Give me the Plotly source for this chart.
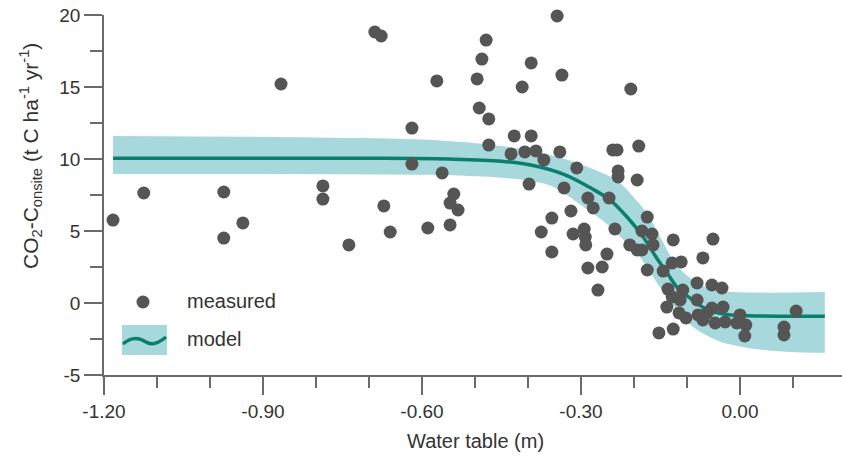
import plotly.graph_objects as go

# ---------------- data ----------------
water_table = [
    -1.183, -1.125, -0.974, -0.974, -0.938, -0.866, -0.787, -0.787, -0.738, -0.689,
    -0.677, -0.672, -0.660, -0.619, -0.619, -0.589, -0.572, -0.562, -0.547, -0.547,
    -0.540, -0.532, -0.496, -0.492, -0.487, -0.479, -0.474, -0.474, -0.432, -0.426,
    -0.411, -0.406, -0.398, -0.394, -0.394, -0.385, -0.375, -0.370, -0.355, -0.355,
    -0.345, -0.340, -0.336, -0.332, -0.319, -0.315, -0.308, -0.294, -0.292, -0.291,
    -0.287, -0.287, -0.277, -0.268, -0.260, -0.251, -0.247, -0.240, -0.232, -0.236,
    -0.230, -0.230, -0.206, -0.208, -0.194, -0.194, -0.191, -0.185, -0.175, -0.175,
    -0.166, -0.164, -0.185, -0.153, -0.126, -0.126, -0.051, -0.128, -0.111, -0.070,
    -0.145, -0.081, -0.053, -0.034, -0.136, -0.108, -0.128, -0.113, -0.081, -0.138,
    -0.115, -0.102, -0.079, -0.062, -0.053, -0.032, -0.070, -0.047, -0.028, 0.000,
    -0.006, 0.011, 0.009, 0.083, 0.083, 0.106,
]
co2_measured = [
    5.76, 7.64, 7.71, 4.51, 5.56, 15.21, 8.13, 7.22, 4.03, 18.82,
    18.54, 6.74, 4.93, 12.15, 9.65, 5.21, 15.42, 9.03, 6.94, 5.42,
    7.57, 6.46, 15.56, 13.54, 16.94, 18.26, 12.78, 10.97, 10.35, 11.60,
    15.00, 10.49, 8.26, 16.67, 11.60, 10.56, 4.93, 9.93, 5.90, 3.54,
    19.93, 10.49, 15.83, 7.99, 6.39, 4.79, 9.38, 5.14, 4.58, 4.03,
    7.29, 2.43, 6.60, 0.90, 2.50, 3.40, 7.29, 10.63, 10.63, 5.14,
    9.17, 8.75, 14.86, 4.03, 8.54, 3.68, 10.90, 5.00, 5.97, 2.29,
    4.79, 4.03, 3.68, -2.08, -1.81, 4.38, 4.44, 2.78, 2.85, 3.13,
    2.22, 1.39, 1.25, 1.04, 0.97, 0.90, 0.42, 0.21, 0.21, -0.28,
    -0.69, -1.04, -0.83, -0.69, -0.35, -0.28, -1.18, -1.39, -1.32, -0.83,
    -1.39, -1.53, -2.29, -1.67, -2.22, -0.56,
]

model_x = [-1.183, -0.9, -0.7, -0.55, -0.45, -0.39, -0.33, -0.28, -0.245, -0.213,
           -0.183, -0.155, -0.135, -0.119, -0.089, -0.062, -0.025, 0.03, 0.16]
model_y = [10.05, 10.05, 10.05, 10.0, 9.85, 9.55, 8.9, 7.95, 7.15, 5.97,
           4.6, 3.0, 1.95, 1.1, 0.2, -0.45, -0.8, -0.9, -0.92]

upper_x = [-1.183, -0.8, -0.6, -0.5, -0.45, -0.39, -0.326, -0.264, -0.232, -0.202,
           -0.175, -0.151, -0.119, -0.089, -0.06, -0.025, 0.16]
upper_y = [11.6, 11.5, 11.35, 11.1, 10.9, 10.55, 9.95, 9.1, 8.5, 7.4,
           6.2, 4.6, 2.6, 1.6, 1.05, 0.8, 0.76]

lower_x = [-1.183, -0.6, -0.5, -0.45, -0.39, -0.355, -0.296, -0.245, -0.202, -0.189,
           -0.151, -0.119, -0.089, -0.043, 0.013, 0.094, 0.16]
lower_y = [8.95, 8.9, 8.8, 8.7, 8.45, 8.1, 6.7, 5.3, 3.7, 3.2,
           1.1, -0.5, -1.65, -2.6, -3.1, -3.4, -3.45]

x_ticks = [-1.2, -0.9, -0.6, -0.3, 0.0]
x_tick_labels = ["-1.20", "-0.90", "-0.60", "-0.30", "0.00"]
y_ticks = [-5, 0, 5, 10, 15, 20]
y_tick_labels = ["-5", "0", "5", "10", "15", "20"]

# ---------------- styles ----------------
BAND = "#a7d8dc"
LINE = "#0a7f6c"
DOT = "#555555"
AXIS = "#6a6a6a"
TXT = "#333333"
FONT = "Liberation Sans, Arial, sans-serif"

W, H = 842, 466
ML, MT, MB = 104, 15, 466 - 375
PW, PH = W - ML, H - MT - MB


def px_x(px):
    return (px - ML) / PW


def px_y(py):
    return (375 - py) / PH


fig = go.Figure()

fig.add_trace(go.Scatter(x=lower_x, y=lower_y, mode="lines",
                         line=dict(width=0, shape="spline", color=BAND),
                         hoverinfo="skip", showlegend=False))
fig.add_trace(go.Scatter(x=upper_x, y=upper_y, mode="lines", fill="tonexty",
                         fillcolor=BAND, line=dict(width=0, shape="spline", color=BAND),
                         hoverinfo="skip", showlegend=False))
fig.add_trace(go.Scatter(x=model_x, y=model_y, mode="lines", name="model",
                         line=dict(width=3.5, shape="spline", color=LINE),
                         showlegend=False))
fig.add_trace(go.Scatter(x=water_table, y=co2_measured, mode="markers", name="measured",
                         marker=dict(size=13, color=DOT), cliponaxis=False,
                         showlegend=False))

# ---------------- manual legend ----------------
fig.add_shape(type="circle", xref="x", yref="y", xsizemode="pixel", ysizemode="pixel",
              xanchor=-1.2, yanchor=-5, x0=32.5, x1=45.5, y0=66.5, y1=79.5,
              fillcolor=DOT, line=dict(width=0), layer="above")
fig.add_shape(type="rect", xref="paper", yref="paper",
              x0=px_x(122), x1=px_x(167), y0=px_y(355), y1=px_y(325),
              fillcolor=BAND, line=dict(width=0), layer="above")
fig.add_shape(type="path", xref="x", yref="y", xsizemode="pixel", ysizemode="pixel",
              xanchor=-1.2, yanchor=-5,
              path="M 19,31 C 28,39 36,37 42,33 C 48,29 56,33 62,38",
              line=dict(color=LINE, width=3.5), layer="above")

fig.add_annotation(text="measured", xref="paper", yref="paper",
                   x=px_x(185), y=px_y(301), xanchor="left", yanchor="middle",
                   showarrow=False, font=dict(size=20, color=TXT, family=FONT))
fig.add_annotation(text="model", xref="paper", yref="paper",
                   x=px_x(185), y=px_y(339), xanchor="left", yanchor="middle",
                   showarrow=False, font=dict(size=20, color=TXT, family=FONT))

# axis titles
fig.add_annotation(text="CO<sub>2</sub>-C<sub>onsite</sub> (t C ha<sup>-1</sup> yr<sup>-1</sup>)",
                   xref="paper", yref="paper", x=px_x(30), y=px_y(156),
                   textangle=-90, showarrow=False, xanchor="center", yanchor="middle",
                   font=dict(size=21, color=TXT, family=FONT))
fig.add_annotation(text="Water table (m)", xref="paper", yref="paper",
                   x=px_x(475), y=px_y(441), xanchor="center", yanchor="middle",
                   showarrow=False, font=dict(size=20, color=TXT, family=FONT))

fig.update_xaxes(range=[-1.2, -1.2 + PW / 530.0], showline=True, linecolor=AXIS, linewidth=1.5,
                 tickmode="array", tickvals=x_ticks, ticktext=x_tick_labels,
                 ticks="outside", ticklen=18, tickwidth=1.5, tickcolor=AXIS,
                 minor=dict(tickmode="linear", tick0=-1.2, dtick=0.1, ticks="outside",
                            ticklen=11, tickwidth=1.5, tickcolor=AXIS, showgrid=False),
                 showgrid=False, zeroline=False,
                 tickfont=dict(size=19, color=TXT, family=FONT))
fig.update_yaxes(range=[-5, 20], showline=True, linecolor=AXIS, linewidth=1.5,
                 tickmode="array", tickvals=y_ticks, ticktext=y_tick_labels,
                 ticks="outside", ticklen=18, tickwidth=1.5, tickcolor=AXIS,
                 minor=dict(tickmode="linear", tick0=-5, dtick=2.5, ticks="outside",
                            ticklen=12, tickwidth=1.5, tickcolor=AXIS, showgrid=False),
                 showgrid=False, zeroline=False, ticklabeloverflow="allow",
                 tickfont=dict(size=19, color=TXT, family=FONT))

fig.update_layout(width=W, height=H, margin=dict(l=ML, r=0, t=MT, b=MB),
                  plot_bgcolor="white", paper_bgcolor="white",
                  font=dict(family=FONT, color=TXT), showlegend=False)

# remove the default 8px body margin so the figure fills the window exactly
fig.write_html("out.html", config={"displayModeBar": False},
               post_script="document.body.style.margin='0';document.body.style.overflow='hidden';")
